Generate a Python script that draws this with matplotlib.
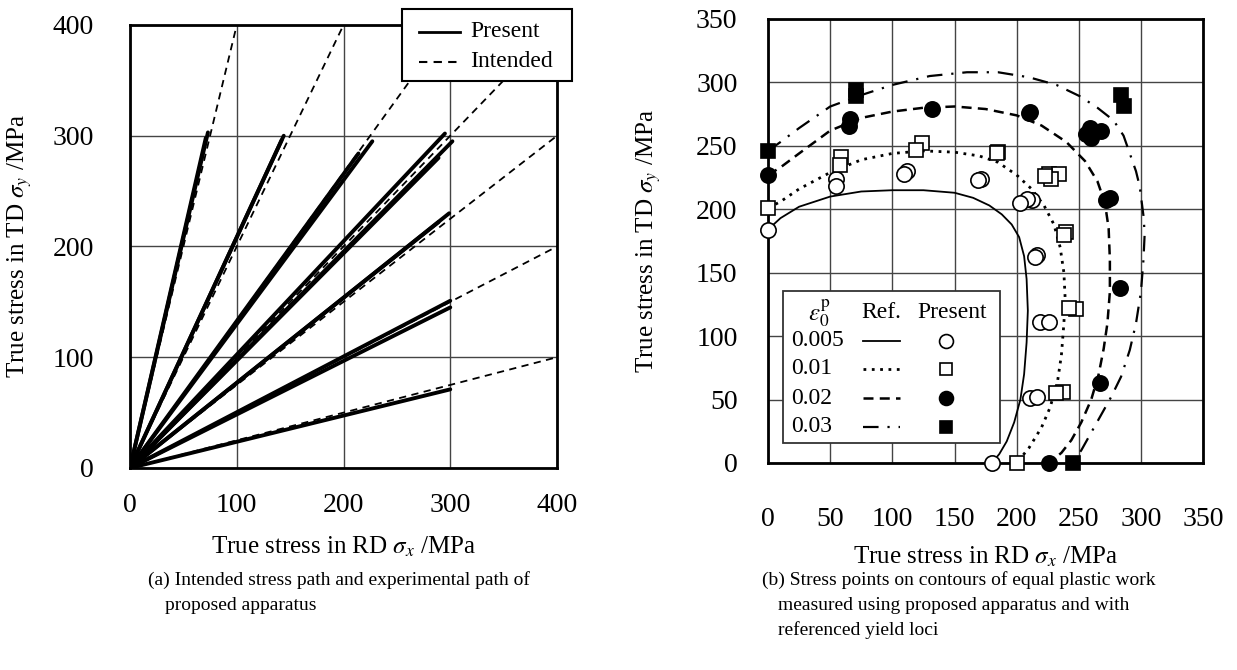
import numpy as np
import matplotlib
matplotlib.use('Agg')
import matplotlib.pyplot as plt
from matplotlib.lines import Line2D
from matplotlib.patches import Rectangle

plt.rcParams['font.family'] = ['Liberation Serif', 'DejaVu Serif']
plt.rcParams['mathtext.fontset'] = 'stix'

# (a) 应力路径: 目标路径终点 (虚线) 与实测路径终点 (实线)
intended_x = [100, 200, 300, 400, 400, 400, 400]
intended_y = [400, 400, 400, 400, 300, 200, 100]
present_x = [73, 71, 144, 142, 227, 214, 295, 302, 289, 299, 289, 300, 300, 300]
present_y = [303, 298, 300, 296, 295, 284, 302, 295, 280, 230, 222, 151, 145, 71]

# (b) 参考屈服轨迹
ref_labels = ['0.005', '0.01', '0.02', '0.03']
ref_x_005 = [0, 10, 25, 50, 75, 100, 125, 150, 165, 178, 188, 196, 202, 206, 208, 209,
             208, 206, 203, 198, 192, 186, 180]
ref_y_005 = [184, 193, 202, 210, 214, 215, 215, 213, 209, 203, 196, 188, 178, 163, 145, 120,
             95, 70, 50, 32, 17, 7, 0]
ref_x_01 = [0, 10, 25, 50, 75, 100, 125, 150, 170, 185, 200, 212, 222, 230, 235, 238, 239,
            238, 236, 233, 227, 220, 210, 200]
ref_y_01 = [201, 206, 216, 229, 239, 244, 246, 245, 242, 237, 227, 216, 203, 188, 170, 150, 130,
            110, 85, 65, 44, 28, 12, 0]
ref_x_02 = [0, 10, 25, 50, 75, 100, 125, 150, 175, 200, 220, 240, 255, 265, 271, 274, 275,
            275, 273, 270, 266, 260, 252, 244, 236, 226]
ref_y_02 = [227, 233, 244, 262, 272, 277, 280, 281, 279, 274, 266, 253, 238, 222, 205, 185, 160,
            135, 110, 90, 70, 50, 32, 18, 8, 0]
ref_x_03 = [0, 10, 25, 50, 75, 100, 130, 160, 185, 210, 232, 251, 265, 278, 286, 291, 296, 299,
            302, 303, 302, 300, 296, 291, 284, 276, 268, 260, 252, 245]
ref_y_03 = [246, 253, 264, 281, 290, 298, 305, 308, 308, 304, 298, 289, 280, 270, 258, 244, 230,
            218, 195, 181, 160, 135, 110, 89, 68, 52, 38, 24, 10, 0]

# (b) 本装置测得的应力点
pts_x_005 = [0, 180, 55, 55, 112, 109, 171, 169, 212, 208, 203, 216, 215, 219, 226, 211, 216]
pts_y_005 = [184, 0, 224, 218, 230, 228, 224, 223, 207, 208, 205, 164, 162, 111, 111, 51, 52]
pts_x_01 = [0, 200, 59, 58, 124, 119, 185, 184, 226, 234, 228, 223, 240, 238, 248, 242, 237, 232]
pts_y_01 = [201, 0, 241, 235, 252, 247, 245, 244, 228, 228, 224, 226, 182, 180, 121, 122, 56, 55]
pts_x_02 = [0, 226, 66, 65, 132, 210, 211, 259, 268, 256, 260, 275, 272, 283, 267]
pts_y_02 = [227, 0, 271, 266, 279, 276, 277, 264, 262, 259, 256, 209, 207, 138, 63]
pts_x_03 = [0, 245, 71, 71, 284, 286]
pts_y_03 = [246, 0, 294, 289, 290, 281]

W, H = 1237, 670
fig = plt.figure(figsize=(12.37, 6.70), dpi=100)
ax1 = fig.add_axes([0.1051, 0.3015, 0.3452, 0.6612])
ax2 = fig.add_axes([0.6209, 0.3090, 0.3517, 0.6627])

DASH = (0, (4, 3))

# ---------- (a) ----------
for xe, ye in zip(intended_x, intended_y):
    ax1.plot([0, xe], [0, ye], c='k', ls=DASH, lw=1.3, zorder=2)
for xe, ye in zip(present_x, present_y):
    ax1.plot([0, xe], [0, ye], c='k', lw=2.8, solid_capstyle='round', zorder=3)
ax1.set_xlim(0, 400)
ax1.set_ylim(0, 400)
ax1.set_xticks([0, 100, 200, 300, 400])
ax1.set_yticks([0, 100, 200, 300, 400])
ax1.grid(True, color='#444444', lw=1.0)
ax1.set_axisbelow(True)
ax1.tick_params(length=0, labelsize=20)
ax1.tick_params(axis='y', pad=26)
ax1.tick_params(axis='x', pad=18)
ax1.set_xlabel(r'True stress in RD $\sigma_x$ /MPa', fontsize=18)
ax1.set_ylabel(r'True stress in TD $\sigma_y$ /MPa', fontsize=18)
ax1.xaxis.set_label_coords(0.5, -0.150)
ax1.yaxis.set_label_coords(-0.225, 0.5)
for s in ax1.spines.values():
    s.set_linewidth(2)

# 图例 (a): 手工绘制, 框超出坐标区
tf = fig.transFigure
fig.add_artist(Rectangle((402 / W, 1 - 81 / H), 170 / W, 72 / H, transform=tf,
                         fc='white', ec='k', lw=1.5, zorder=10))
leg_rows = [('Present', '-', 2.0, 31.5), ('Intended', DASH, 1.5, 61.5)]
for lab, ls, lw, yy in leg_rows:
    fig.add_artist(Line2D([419 / W, 460 / W], [1 - yy / H, 1 - yy / H], transform=tf,
                          c='k', ls=ls, lw=lw, zorder=11))
    fig.text(470 / W, 1 - yy / H, lab, fontsize=17, ha='left', va='center', zorder=11)

# ---------- (b) ----------
ref_x = [ref_x_005, ref_x_01, ref_x_02, ref_x_03]
ref_y = [ref_y_005, ref_y_01, ref_y_02, ref_y_03]
ref_ls = ['-', (0, (1, 2)), (0, (4, 2.5)), (0, (7, 4, 1, 4))]
ref_lw = [1.3, 2.0, 1.8, 1.6]
pts_x = [pts_x_005, pts_x_01, pts_x_02, pts_x_03]
pts_y = [pts_y_005, pts_y_01, pts_y_02, pts_y_03]
mk = ['o', 's', 'o', 's']
mfc = ['white', 'white', 'black', 'black']
ms = [11, 10, 11, 10]

for i in range(4):
    ax2.plot(ref_x[i], ref_y[i], c='k', ls=ref_ls[i], lw=ref_lw[i], zorder=3)
for i in range(4):
    ax2.plot(pts_x[i], pts_y[i], ls='none', marker=mk[i], mfc=mfc[i], mec='k',
             mew=1.2, ms=ms[i], zorder=4, clip_on=False)

ax2.set_xlim(0, 350)
ax2.set_ylim(0, 350)
ax2.set_xticks(np.arange(0, 351, 50))
ax2.set_yticks(np.arange(0, 351, 50))
ax2.grid(True, color='#444444', lw=1.0)
ax2.set_axisbelow(True)
ax2.tick_params(length=0, labelsize=20)
ax2.tick_params(axis='y', pad=22)
ax2.tick_params(axis='x', pad=32)
ax2.set_xlabel(r'True stress in RD $\sigma_x$ /MPa', fontsize=18)
ax2.set_ylabel(r'True stress in TD $\sigma_y$ /MPa', fontsize=18)
ax2.xaxis.set_label_coords(0.5, -0.185)
ax2.yaxis.set_label_coords(-0.241, 0.5)
for s in ax2.spines.values():
    s.set_linewidth(2)

# 表格式图例
tr = ax2.transAxes
ax2.add_patch(Rectangle((0.035, 0.046), 0.497, 0.342, transform=tr,
                        fc='white', ec='#333333', lw=1.3, zorder=5))
ax2.text(0.118, 0.338, r'$\varepsilon_0^{\mathrm{p}}$', transform=tr, fontsize=18,
         ha='center', va='center', zorder=6)
ax2.text(0.261, 0.338, 'Ref.', transform=tr, fontsize=17, ha='center', va='center', zorder=6)
ax2.text(0.422, 0.338, 'Present', transform=tr, fontsize=17, ha='center', va='center', zorder=6)
row_y = [0.275, 0.212, 0.146, 0.082]
for i in range(4):
    ax2.text(0.054, row_y[i], ref_labels[i], transform=tr, fontsize=17,
             ha='left', va='center', zorder=6)
    ax2.plot([0.218, 0.303], [row_y[i], row_y[i]], transform=tr, c='k',
             ls=ref_ls[i], lw=ref_lw[i], zorder=6)
    ax2.plot([0.409], [row_y[i]], transform=tr, ls='none', marker=mk[i],
             mfc=mfc[i], mec='k', mew=1.2, ms=ms[i] - 1, zorder=6)

# 图注
cap_a = [(148, 580, '(a) Intended stress path and experimental path of'),
         (165, 605, 'proposed apparatus')]
cap_b = [(762, 580, '(b) Stress points on contours of equal plastic work'),
         (778, 605, 'measured using proposed apparatus and with'),
         (778, 630, 'referenced yield loci')]
for x, y, s in cap_a + cap_b:
    fig.text(x / W, 1 - y / H, s, fontsize=14, ha='left', va='center')

fig.savefig('out.png', dpi=100)
